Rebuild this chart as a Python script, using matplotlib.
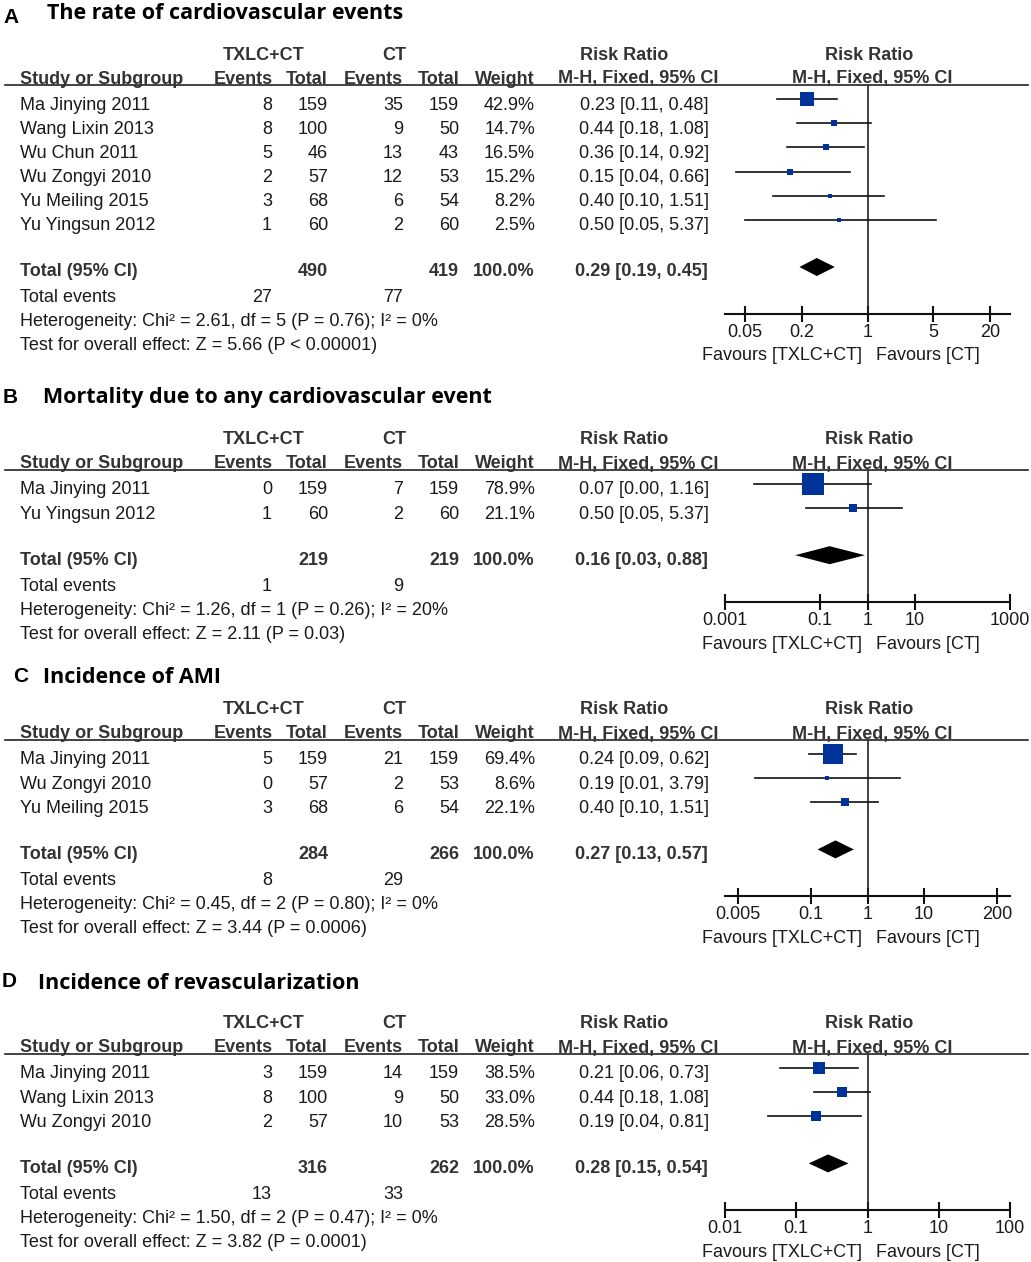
import matplotlib
matplotlib.use('Agg')
import matplotlib.pyplot as plt
from matplotlib.ticker import NullLocator

# ---- data ----
titles = ['The rate of cardiovascular events',
          'Mortality due to any cardiovascular event',
          'Incidence of AMI',
          'Incidence of revascularization']
letters = ['A', 'B', 'C', 'D']

a_study = ['Ma Jinying 2011', 'Wang Lixin 2013', 'Wu Chun 2011', 'Wu Zongyi 2010', 'Yu Meiling 2015', 'Yu Yingsun 2012']
a_ev1 = [8, 8, 5, 2, 3, 1]
a_tot1 = [159, 100, 46, 57, 68, 60]
a_ev2 = [35, 9, 13, 12, 6, 2]
a_tot2 = [159, 50, 43, 53, 54, 60]
a_weight = [42.9, 14.7, 16.5, 15.2, 8.2, 2.5]
a_rr = [0.23, 0.44, 0.36, 0.15, 0.40, 0.50]
a_lo = [0.11, 0.18, 0.14, 0.04, 0.10, 0.05]
a_hi = [0.48, 1.08, 0.92, 0.66, 1.51, 5.37]

b_study = ['Ma Jinying 2011', 'Yu Yingsun 2012']
b_ev1 = [0, 1]
b_tot1 = [159, 60]
b_ev2 = [7, 2]
b_tot2 = [159, 60]
b_weight = [78.9, 21.1]
b_rr = [0.07, 0.50]
b_lo = [0.004, 0.05]
b_hi = [1.16, 5.37]

c_study = ['Ma Jinying 2011', 'Wu Zongyi 2010', 'Yu Meiling 2015']
c_ev1 = [5, 0, 3]
c_tot1 = [159, 57, 68]
c_ev2 = [21, 2, 6]
c_tot2 = [159, 53, 54]
c_weight = [69.4, 8.6, 22.1]
c_rr = [0.24, 0.19, 0.40]
c_lo = [0.09, 0.01, 0.10]
c_hi = [0.62, 3.79, 1.51]

d_study = ['Ma Jinying 2011', 'Wang Lixin 2013', 'Wu Zongyi 2010']
d_ev1 = [3, 8, 2]
d_tot1 = [159, 100, 57]
d_ev2 = [14, 9, 10]
d_tot2 = [159, 50, 53]
d_weight = [38.5, 33.0, 28.5]
d_rr = [0.21, 0.44, 0.19]
d_lo = [0.06, 0.18, 0.04]
d_hi = [0.73, 1.08, 0.81]

# pooled estimates
pooled_rr = [0.29, 0.16, 0.27, 0.28]
pooled_lo = [0.19, 0.03, 0.13, 0.15]
pooled_hi = [0.45, 0.88, 0.57, 0.54]
het_chi2 = [2.61, 1.26, 0.45, 1.50]
het_df = [5, 1, 2, 2]
het_p = ['0.76', '0.26', '0.80', '0.47']
het_i2 = [0, 20, 0, 0]
z_value = [5.66, 2.11, 3.44, 3.82]
z_p = ['< 0.00001', '= 0.03', '= 0.0006', '= 0.0001']

tick_values = [[0.05, 0.2, 1, 5, 20],
               [0.001, 0.1, 1, 10, 1000],
               [0.005, 0.1, 1, 10, 200],
               [0.01, 0.1, 1, 10, 100]]
tick_labels = [['0.05', '0.2', '1', '5', '20'],
               ['0.001', '0.1', '1', '10', '1000'],
               ['0.005', '0.1', '1', '10', '200'],
               ['0.01', '0.1', '1', '10', '100']]
decades = [1.51, 3.0, 2.53, 2.0]   # half-width of the log axis

# ---- layout in pixels ----
W, H = 1031, 1262
line_y = [85, 470, 740, 1054]
title_base = [19, 403, 683, 989]
letter_base = [23, 403, 682, 987]
letter_x = [3, 3, 13, 2]
title_x = [47, 43, 43, 38]
ROW = 24.2
BODY = 'Liberation Sans'
FS = 13
TXT = '#1a1a1a'
HDR = '#333333'
BLUE = '#003399'

fig = plt.figure(figsize=(W / 100, H / 100), dpi=100)
bg = fig.add_axes([0, 0, 1, 1])
bg.set_xlim(0, W)
bg.set_ylim(H, 0)
bg.axis('off')


def txt(x, y, s, ha='left', bold=False, color=TXT, size=FS):
    # y is the vertical centre of capital letters
    bg.text(x, y + 6.5, s, ha=ha, va='baseline', family=BODY, fontsize=size,
            fontweight='bold' if bold else 'normal', color=color)


def draw_panel(i, study, ev1, tot1, ev2, tot2, weight, rr, lo, hi):
    ly = line_y[i]
    bg.text(letter_x[i], letter_base[i], letters[i], family=BODY, fontsize=15,
            fontweight='bold', va='baseline', color='black')
    bg.text(title_x[i], title_base[i], titles[i], family='Open Sans', fontsize=15.5,
            fontweight='bold', va='baseline', color='black')

    # headers
    h1, h2 = ly - 32, ly - 8
    txt(264, h1, 'TXLC+CT', ha='center', bold=True, color=HDR)
    txt(394, h1, 'CT', ha='center', bold=True, color=HDR)
    txt(624, h1, 'Risk Ratio', ha='center', bold=True, color=HDR)
    txt(869, h1, 'Risk Ratio', ha='center', bold=True, color=HDR)
    txt(20, h2, 'Study or Subgroup', bold=True, color=HDR)
    txt(273, h2, 'Events', ha='right', bold=True, color=HDR)
    txt(328, h2, 'Total', ha='right', bold=True, color=HDR)
    txt(403, h2, 'Events', ha='right', bold=True, color=HDR)
    txt(460, h2, 'Total', ha='right', bold=True, color=HDR)
    txt(535, h2, 'Weight', ha='right', bold=True, color=HDR)
    txt(638, h2, 'M-H, Fixed, 95% CI', ha='center', bold=True, color=HDR)
    txt(872, h2, 'M-H, Fixed, 95% CI', ha='center', bold=True, color=HDR)
    bg.plot([5, 1028], [ly, ly], color='#222222', lw=1.2)

    # study rows
    first = ly + 18
    rows = [first + k * ROW for k in range(len(study))]
    for k, y in enumerate(rows):
        txt(20, y, study[k])
        txt(272, y, str(ev1[k]), ha='right')
        txt(328, y, str(tot1[k]), ha='right')
        txt(403, y, str(ev2[k]), ha='right')
        txt(459, y, str(tot2[k]), ha='right')
        txt(535, y, f'{weight[k]:.1f}%', ha='right')
        txt(709, y, f'{rr[k]:.2f} [{lo[k]:.2f}, {hi[k]:.2f}]', ha='right')

    ty = rows[-1] + 46
    txt(20, ty, 'Total (95% CI)', bold=True, color=HDR)
    txt(328, ty, str(sum(tot1)), ha='right', bold=True, color=HDR)
    txt(459, ty, str(sum(tot2)), ha='right', bold=True, color=HDR)
    txt(535, ty, '100.0%', ha='right', bold=True, color=HDR)
    txt(708, ty, f'{pooled_rr[i]:.2f} [{pooled_lo[i]:.2f}, {pooled_hi[i]:.2f}]',
        ha='right', bold=True, color=HDR)
    txt(20, ty + 26, 'Total events')
    txt(272, ty + 26, str(sum(ev1)), ha='right')
    txt(403, ty + 26, str(sum(ev2)), ha='right')
    txt(20, ty + 50, f'Heterogeneity: Chi² = {het_chi2[i]:.2f}, df = {het_df[i]} '
                     f'(P = {het_p[i]}); I² = {het_i2[i]}%')
    txt(20, ty + 74, f'Test for overall effect: Z = {z_value[i]:.2f} (P {z_p[i]})')

    # forest plot
    axis_y = ty + 44
    x0, x1 = 725, 1010
    ax = fig.add_axes([x0 / W, (H - axis_y) / H, (x1 - x0) / W, (axis_y - ly) / H])
    ax.set_xscale('log')
    d = decades[i]
    ax.set_xlim(10 ** -d, 10 ** d)
    ax.set_ylim(axis_y, ly)
    ax.patch.set_alpha(0)
    for s in ['top', 'left', 'right']:
        ax.spines[s].set_visible(False)
    ax.spines['bottom'].set_linewidth(1.5)
    ax.spines['bottom'].set_color('#111111')
    ax.set_yticks([])
    ax.set_xticks(tick_values[i])
    ax.set_xticklabels(tick_labels[i], family=BODY, fontsize=FS, color=TXT)
    ax.xaxis.set_minor_locator(NullLocator())
    ax.tick_params(axis='x', direction='inout', length=12, width=1.5, pad=1,
                   color='#111111')
    ax.axvline(1, color='#222222', lw=1.2)

    for k, y in enumerate(rows):
        ym = y - 4
        ax.plot([lo[k], hi[k]], [ym, ym], color='#111111', lw=1.2)
        side = 2.5 + 0.25 * weight[k]
        ax.plot([rr[k]], [ym], marker='s', color=BLUE, markersize=side * 0.72,
                markeredgewidth=0, linestyle='none')
    yc = ty - 3
    ax.fill([pooled_lo[i], pooled_rr[i], pooled_hi[i], pooled_rr[i]],
            [yc, yc - 9, yc, yc + 9], color='black', lw=0)

    txt(862, axis_y + 40, 'Favours [TXLC+CT]', ha='right')
    txt(876, axis_y + 40, 'Favours [CT]')


draw_panel(0, a_study, a_ev1, a_tot1, a_ev2, a_tot2, a_weight, a_rr, a_lo, a_hi)
draw_panel(1, b_study, b_ev1, b_tot1, b_ev2, b_tot2, b_weight, b_rr, b_lo, b_hi)
draw_panel(2, c_study, c_ev1, c_tot1, c_ev2, c_tot2, c_weight, c_rr, c_lo, c_hi)
draw_panel(3, d_study, d_ev1, d_tot1, d_ev2, d_tot2, d_weight, d_rr, d_lo, d_hi)

fig.savefig('out.png', dpi=100)
